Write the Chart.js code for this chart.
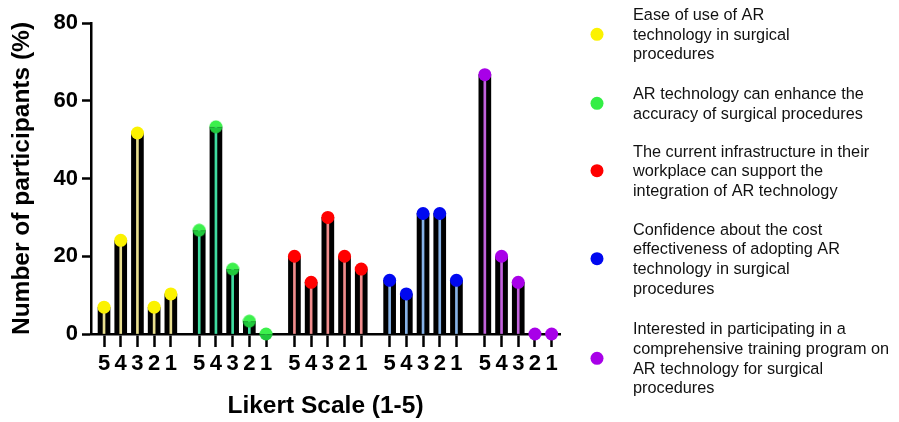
<!DOCTYPE html>
<html>
<head>
<meta charset="utf-8">
<script src="https://cdn.jsdelivr.net/npm/chart.js@4.4.1/dist/chart.umd.min.js"></script>
<style>
  html, body { margin: 0; padding: 0; background: #fff; }
  #wrap { width: 899px; height: 422px; }
</style>
</head>
<body>
<div id="wrap"><canvas id="chart" width="899" height="422"></canvas></div>
<script>
// Likert answers, shown under each bar of a group
const likertLabels = ['5', '4', '3', '2', '1'];

// Share of participants (%) for answers 5..1
const easeOfUse        = [6.9, 24.1, 51.7, 6.9, 10.3];
const enhancesAccuracy = [26.7, 53.3, 16.7, 3.3, 0];
const infrastructure   = [20.0, 13.3, 30.0, 20.0, 16.7];
const costEffective    = [13.8, 10.3, 31.0, 31.0, 13.8];
const trainingInterest = [66.7, 20.0, 13.3, 0, 0];

// Statement for each group (legend text, one entry per line)
const statementEase = ['Ease of use of AR', 'technology in surgical', 'procedures'];
const statementAccuracy = ['AR technology can enhance the', 'accuracy of surgical procedures'];
const statementInfra = ['The current infrastructure in their', 'workplace can support the', 'integration of AR technology'];
const statementCost = ['Confidence about the cost', 'effectiveness of adopting AR', 'technology in surgical', 'procedures'];
const statementTraining = ['Interested in participating in a', 'comprehensive training program on', 'AR technology for surgical', 'procedures'];

const allSeries = [easeOfUse, enhancesAccuracy, infrastructure, costEffective, trainingInterest];
const statements = [statementEase, statementAccuracy, statementInfra, statementCost, statementTraining];

// Styling
const dotColors  = ['#fbf200', '#33ee44', '#ff0000', '#0008f0', '#a800e8'];
const stemColors = ['#e9df8f', '#3fdca0', '#f08c8c', '#86b2e6', '#c262dc'];
const FONT = '"Liberation Sans", Arial, Helvetica, sans-serif';

// Horizontal layout: five answers per group, a wider gap between groups
const GROUP_STEP = 5.7;
const xPos = (g, i) => g * GROUP_STEP + i;
const tickPositions = [];
allSeries.forEach((vals, g) => vals.forEach((_, i) => tickPositions.push(xPos(g, i))));

// Two-tone marker used for the green dots
function twoToneDot(top, bottom, r) {
  const c = document.createElement('canvas');
  const s = Math.ceil(r * 2) + 1;
  c.width = s; c.height = s;
  const g = c.getContext('2d');
  const cx = s / 2, cy = s / 2;
  g.save();
  g.beginPath(); g.arc(cx, cy, r, 0, Math.PI * 2); g.clip();
  g.fillStyle = top; g.fillRect(0, 0, s, cy + 0.5);
  g.fillStyle = bottom; g.fillRect(0, cy + 0.5, s, s);
  g.restore();
  return c;
}
const greenDot = twoToneDot('#3cf04c', '#20c83c', 6.5);

const datasets = [];
allSeries.forEach((vals, g) => {
  const pts = vals.map((v, i) => ({ x: xPos(g, i), y: v }));
  datasets.push({
    type: 'bar', data: pts, backgroundColor: '#000', borderWidth: 0,
    barThickness: 12, grouped: false, order: 3, clip: false
  });
  datasets.push({
    type: 'bar', data: pts, backgroundColor: stemColors[g], borderWidth: 0,
    barThickness: 2, grouped: false, order: 2, clip: false
  });
  datasets.push({
    type: 'scatter', data: pts, backgroundColor: dotColors[g], borderWidth: 0,
    pointRadius: 6.5, pointHoverRadius: 6.5,
    pointStyle: g === 1 ? greenDot : 'circle',
    order: 1, clip: false
  });
});

// Statements drawn as a legend on the right
const legendDotY = [34.3, 103.3, 170.7, 258.7, 358.3];
const sideLegend = {
  id: 'sideLegend',
  afterDraw(chart) {
    const ctx = chart.ctx;
    const lh = 19.6, dotX = 597, textX = 633;
    ctx.save();
    ctx.font = '16.3px ' + FONT;
    ctx.textBaseline = 'middle';
    ctx.textAlign = 'left';
    statements.forEach((lines, g) => {
      const cy = legendDotY[g];
      ctx.beginPath();
      ctx.arc(dotX, cy, 6.5, 0, Math.PI * 2);
      ctx.fillStyle = dotColors[g];
      ctx.fill();
      ctx.fillStyle = '#111';
      const first = cy + 1 - lh * (lines.length - 1) / 2;
      lines.forEach((t, k) => ctx.fillText(t, textX, first + lh * k));
    });
    ctx.restore();
  }
};

new Chart(document.getElementById('chart'), {
  type: 'bar',
  data: { datasets },
  plugins: [sideLegend],
  options: {
    responsive: false,
    devicePixelRatio: 1,
    animation: false,
    layout: { padding: { top: 23, right: 339, bottom: 0, left: 0 } },
    plugins: { legend: { display: false }, tooltip: { enabled: false } },
    scales: {
      x: {
        type: 'linear',
        min: -0.78,
        max: 27.3,
        offset: false,
        grid: {
          offset: false, drawOnChartArea: false, drawTicks: true,
          tickLength: 13, tickWidth: 2.5, tickColor: '#000'
        },
        border: { display: true, color: '#000', width: 2.5 },
        afterBuildTicks: (scale) => { scale.ticks = tickPositions.map(v => ({ value: v })); },
        afterFit: (scale) => { scale.height = 88; },
        ticks: {
          autoSkip: false, maxRotation: 0, minRotation: 0, padding: 4,
          color: '#000',
          font: { family: FONT, size: 22, weight: 'bold' },
          callback: (v, idx) => likertLabels[idx % likertLabels.length]
        },
        title: {
          display: true, text: 'Likert Scale (1-5)', color: '#000',
          font: { family: FONT, size: 24.5, weight: 'bold' },
          padding: { top: 0, bottom: 1 }
        }
      },
      y: {
        min: 0, max: 80,
        grid: {
          drawOnChartArea: false, drawTicks: true,
          tickLength: 9, tickWidth: 2.5, tickColor: '#000'
        },
        border: { display: true, color: '#000', width: 2.5 },
        afterFit: (scale) => { scale.width = 91; },
        ticks: {
          stepSize: 20, padding: 4, color: '#000',
          font: { family: FONT, size: 22, weight: 'bold' }
        },
        title: {
          display: true, text: 'Number of participants (%)', color: '#000',
          font: { family: FONT, size: 24.5, weight: 'bold' },
          padding: { top: 8, bottom: 0 }
        }
      }
    }
  }
});
</script>
</body>
</html>
